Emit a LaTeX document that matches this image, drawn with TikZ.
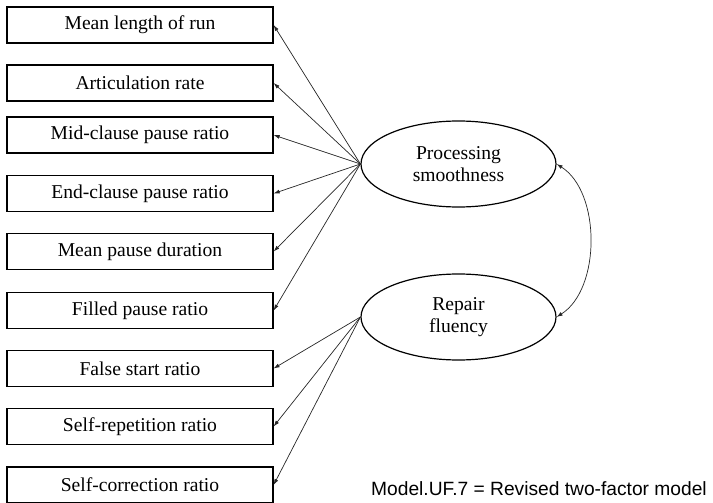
\documentclass[tikz,border=0pt]{standalone}
\usepackage{fontspec}
\setmainfont{Liberation Serif}
\newfontfamily\captionfont{Liberation Sans}
\usetikzlibrary{arrows.meta,shapes.geometric}

\tikzset{
  indicator/.style={draw=black, line width=1.2pt, minimum width=266pt, minimum height=36pt,
    inner sep=0pt, font=\fontsize{19.6}{23}\selectfont},
  factor/.style={draw=black, ellipse, line width=1.2pt, minimum width=195pt, minimum height=86pt,
    inner sep=0pt, align=center, font=\fontsize{19.6}{22.5}\selectfont},
  loading/.style={draw=black!85, line width=0.7pt, -{Latex[length=6pt,width=4pt]}},
  covar/.style={draw=black!85, line width=0.7pt, {Latex[length=6pt,width=4pt]}-{Latex[length=6pt,width=4pt]}}
}

\begin{document}
\begin{tikzpicture}[x=1pt, y=-1pt]
  \useasboundingbox (0,0) rectangle (713,503);

  % observed indicators
  \node[indicator] (mlr) at (140,25)    {Mean length of run};
  \node[indicator] (ar)  at (140,83)    {Articulation rate};
  \node[indicator] (mcp) at (140,135)   {Mid-clause pause ratio};
  \node[indicator] (ecp) at (140,193.5) {End-clause pause ratio};
  \node[indicator] (mpd) at (140,251.5) {Mean pause duration};
  \node[indicator] (fpr) at (140,310.5) {Filled pause ratio};
  \node[indicator] (fsr) at (140,368.5) {False start ratio};
  \node[indicator] (srr) at (140,426.5) {Self-repetition ratio};
  \node[indicator] (scr) at (140,485)   {Self-correction ratio};

  % latent factors
  \node[factor] (ps) at (458.5,164) {Processing\\smoothness};
  \node[factor] (rf) at (458.5,317) {Repair\\fluency};

  % factor loadings
  \foreach \t in {mlr,ar,mcp,ecp,mpd,fpr}
    \draw[loading] (ps.west) -- (\t.east);
  \foreach \t in {fsr,srr,scr}
    \draw[loading] (rf.west) -- (\t.east);

  % factor covariance
  \draw[covar] (ps.east) .. controls (601,192) and (601,289) .. (rf.east);

  % model label
  \node[anchor=base west, inner sep=0pt, font=\captionfont\fontsize{19.2}{23}\selectfont]
    (cap) at (371,495) {Model.UF.7 = Revised two-factor model};
\end{tikzpicture}
\end{document}
